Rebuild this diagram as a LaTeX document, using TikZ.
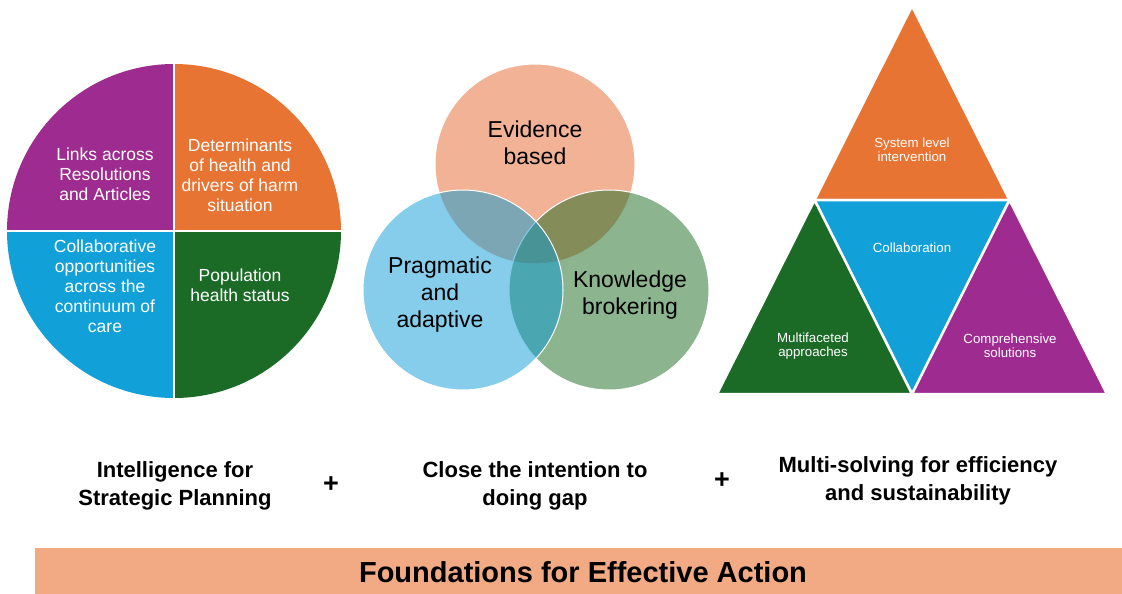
\documentclass[tikz,border=0pt]{standalone}
\usepackage{fontspec}
\setmainfont{Liberation Sans}
\definecolor{porange}{RGB}{232,116,52}
\definecolor{pblue}{RGB}{17,160,215}
\definecolor{pgreen}{RGB}{27,107,39}
\definecolor{ppurple}{RGB}{158,43,143}
\definecolor{vorange}{RGB}{229,101,43}
\definecolor{vblue}{RGB}{11,155,213}
\definecolor{vgreen}{RGB}{23,105,31}
\definecolor{barc}{RGB}{242,170,133}
\tikzset{
  pietext/.style={text=white, align=center, font=\fontsize{17.5}{20}\selectfont},
  venntext/.style={text=black, align=center, font=\fontsize{23}{27}\selectfont},
  tritext/.style={text=white, align=center, font=\fontsize{13.3}{14}\selectfont},
  captext/.style={text=black, align=center, font=\bfseries\fontsize{22}{28}\selectfont},
  plus/.style={text=black, font=\bfseries\fontsize{27}{30}\selectfont},
  vcircle/.style={fill opacity=0.5, draw=white, line width=1pt},
  tri/.style={draw=white, line width=2.5pt, line join=miter}
}
\begin{document}
\begin{tikzpicture}[x=1pt,y=-1pt]
\useasboundingbox (0,0) rectangle (1122,594);
% ---------- pie ----------
\coordinate (pc) at (174,231);
\begin{scope}\clip (0,50) rectangle (174,231);
  \fill[ppurple] (pc) circle[radius=167];\end{scope}
\begin{scope}\clip (174,50) rectangle (350,231);
  \fill[porange] (pc) circle[radius=167];\end{scope}
\begin{scope}\clip (174,231) rectangle (350,410);
  \fill[pgreen] (pc) circle[radius=167];\end{scope}
\begin{scope}\clip (0,231) rectangle (174,410);
  \fill[pblue] (pc) circle[radius=167];\end{scope}
\draw[white, line width=2pt] (174,62) -- (174,400);
\draw[white, line width=2pt] (5,231) -- (343,231);
\node[pietext] (links) at (105,174) {Links across\\Resolutions\\and Articles};
\node[pietext] (determ) at (240,175) {Determinants\\of health and\\drivers of harm\\situation};
\node[pietext] (collab) at (105,286) {Collaborative\\opportunities\\across the\\continuum of\\care};
\node[pietext] (pop) at (240,285) {Population\\health status};
% ---------- venn ----------
\path[vcircle, fill=vorange] (535,164) circle[radius=100];
\path[vcircle, fill=vgreen] (609,290) circle[radius=100];
\path[vcircle, fill=vblue] (463,290) circle[radius=100];
\node[venntext] (evid) at (535,143) {Evidence\\based};
\node[venntext] (prag) at (440,295) {Pragmatic\\and\\adaptive};
\node[venntext] (know) at (630,295) {Knowledge\\brokering};
% ---------- triangles ----------
\coordinate (A) at (912,6);
\coordinate (B) at (717,394);
\coordinate (C) at (1107,394);
\coordinate (D) at (814.5,200);
\coordinate (E) at (1009.5,200);
\coordinate (F) at (912,394);
\filldraw[tri, fill=porange] (A) -- (D) -- (E) -- cycle;
\filldraw[tri, fill=pblue] (D) -- (E) -- (F) -- cycle;
\filldraw[tri, fill=pgreen] (D) -- (B) -- (F) -- cycle;
\filldraw[tri, fill=ppurple] (E) -- (F) -- (C) -- cycle;
\node[tritext] (sys) at (912,150) {System level\\intervention};
\node[tritext] (colla) at (912,248) {Collaboration};
\node[tritext] (multi) at (813,346) {Multifaceted\\approaches};
\node[tritext] (comp) at (1010,346) {Comprehensive\\solutions};
% ---------- captions ----------
\node[captext] (cap1) at (175,486) {Intelligence for\\Strategic Planning};
\node[plus] (plus1) at (331,485) {+};
\node[captext] (cap2) at (535,486) {Close the intention to\\doing gap};
\node[plus] (plus2) at (722,481) {+};
\node[captext] (cap3) at (918,481) {Multi-solving for efficiency\\and sustainability};
% ---------- bar ----------
\fill[barc] (35,548) rectangle (1122,594);
\node[text=black, font=\bfseries\fontsize{29}{32}\selectfont] (found) at (583,572) {Foundations for Effective Action};
\end{tikzpicture}
\end{document}
